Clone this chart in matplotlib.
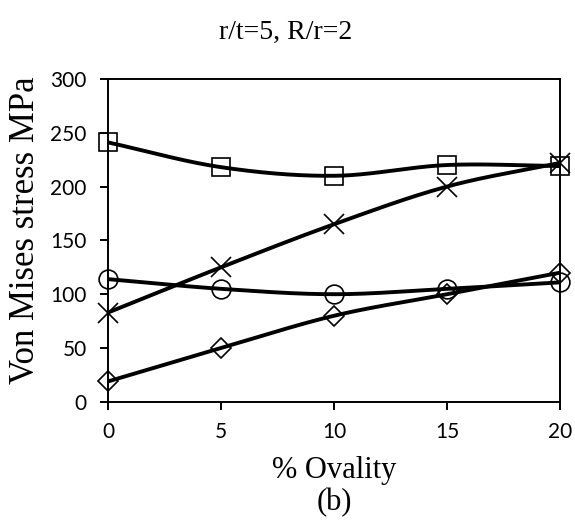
import numpy as np
import matplotlib
matplotlib.use("Agg")
import matplotlib.pyplot as plt

ovality = [0, 5, 10, 15, 20]
squares = [241, 218, 210, 220, 219]
crosses = [83, 125, 165, 200, 222]
circles = [114, 105, 100, 105, 111]
diamonds = [19, 50, 80, 100, 120]
x_ticks = [0, 5, 10, 15, 20]
y_ticks = [0, 50, 100, 150, 200, 250, 300]


def smooth(x, y, n=40):
    # Catmull-Rom curve through the points, like a spreadsheet's smoothed line
    x = np.asarray(x, float)
    y = np.asarray(y, float)
    px = np.concatenate([[2 * x[0] - x[1]], x, [2 * x[-1] - x[-2]]])
    py = np.concatenate([[2 * y[0] - y[1]], y, [2 * y[-1] - y[-2]]])
    xs, ys = [], []
    t = np.linspace(0, 1, n)
    for i in range(1, len(px) - 2):
        for p, out in ((px, xs), (py, ys)):
            p0, p1, p2, p3 = p[i - 1], p[i], p[i + 1], p[i + 2]
            out.extend(0.5 * ((2 * p1) + (-p0 + p2) * t
                              + (2 * p0 - 5 * p1 + 4 * p2 - p3) * t ** 2
                              + (-p0 + 3 * p1 - 3 * p2 + p3) * t ** 3))
    return xs, ys


fig = plt.figure(figsize=(5.75, 5.26), dpi=100)
ax = fig.add_axes([0.188, 0.236, 0.786, 0.614])

series = [(squares, 's', 13), (crosses, 'x', 14), (circles, 'o', 13.5), (diamonds, 'D', 10)]
for vals, mk, ms in series:
    sx, sy = smooth(ovality, vals)
    ax.plot(sx, sy, color='black', lw=2.8, zorder=2)
    ax.plot(ovality, vals, linestyle='none', marker=mk, ms=ms, mfc='none' if mk != 'x' else 'black',
            mec='black', mew=1.2, zorder=3, clip_on=False)

ax.set_xlim(0, 20)
ax.set_ylim(0, 300)
ax.set_xticks(x_ticks)
ax.set_yticks(y_ticks)
for s in ax.spines.values():
    s.set_linewidth(1.4)
ax.tick_params(direction='out', length=5.5, width=1.4, labelsize=15)
ax.tick_params(axis='y', pad=10)
ax.tick_params(axis='x', pad=9)
for lab in ax.get_xticklabels() + ax.get_yticklabels():
    lab.set_fontfamily('Lato')

serif = 'Liberation Serif'
fig.text(0.045, 0.562, 'Von Mises stress MPa', rotation=90, ha='center', va='center',
         fontsize=25, family=serif)
fig.text(0.581, 0.106, '% Ovality', ha='center', va='center', fontsize=22, family=serif)
fig.text(0.581, 0.044, '(b)', ha='center', va='center', fontsize=22, family=serif)
fig.text(0.496, 0.938, 'r/t=5, R/r=2', ha='center', va='center', fontsize=20, family=serif)

fig.savefig('out.png', dpi=100)
